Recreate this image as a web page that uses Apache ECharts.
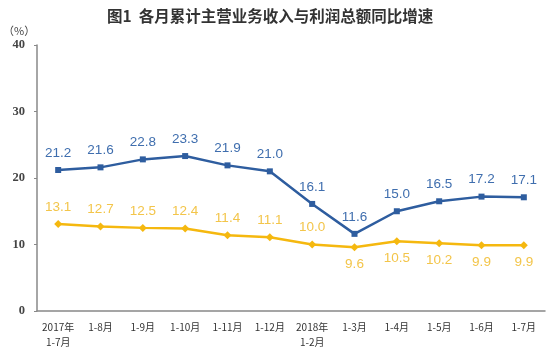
<!DOCTYPE html>
<html><head><meta charset="utf-8">
<script src="https://cdn.jsdelivr.net/npm/echarts@6/dist/echarts.min.js"></script>
<style>html,body{margin:0;padding:0;background:#fff}#c{width:559px;height:355px}</style>
</head><body><div id="c"></div>
<script>
const categories = ['2017年\n1-7月','1-8月','1-9月','1-10月','1-11月','1-12月','2018年\n1-2月','1-3月','1-4月','1-5月','1-6月','1-7月'];
const revenueGrowth = [21.2,21.6,22.8,23.3,21.9,21.0,16.1,11.6,15.0,16.5,17.2,17.1];
const profitGrowth = [13.1,12.7,12.5,12.4,11.4,11.1,10.0,9.6,10.5,10.2,9.9,9.9];
const yTicks = [0,10,20,30,40];

const chart = echarts.init(document.getElementById('c'));
chart.setOption({
  animation:false,
  backgroundColor:'#fff',
  title:{text:'图1  各月累计主营业务收入与利润总额同比增速',left:102,top:3,
    textStyle:{fontFamily:'Noto Sans CJK SC',fontSize:15.5,fontWeight:'bold',color:'#333'}},
  graphic:[{type:'text',left:3,top:25,style:{text:'（%）',font:'11px "Noto Sans CJK SC"',fill:'#444'}}],
  grid:{left:37,right:14,top:45,bottom:44},
  xAxis:{type:'category',data:categories,boundaryGap:true,
    axisLine:{lineStyle:{color:'#888',width:1.5}},
    axisTick:{inside:true,length:3,lineStyle:{color:'#888'}},
    axisLabel:{fontFamily:'Noto Sans CJK SC',fontSize:10,color:'#333',margin:9,lineHeight:15,interval:0}},
  yAxis:{type:'value',min:yTicks[0],max:yTicks[yTicks.length-1],interval:10,
    splitLine:{show:false},
    axisLine:{show:true,lineStyle:{color:'#888',width:1.5}},
    axisTick:{show:true,length:3,lineStyle:{color:'#888'}},
    axisLabel:{fontFamily:'Liberation Serif',fontSize:12.5,fontWeight:'bold',color:'#444',margin:12}},
  series:[
    {type:'line',data:revenueGrowth,symbol:'rect',symbolSize:6,
      lineStyle:{color:'#2e5d9f',width:2.5},itemStyle:{color:'#2e5d9f'},
      label:{show:true,position:'top',distance:7,fontFamily:'Liberation Sans',fontSize:13.5,color:'#3f6eae',
        formatter:p=>p.value.toFixed(1)}},
    {type:'line',data:profitGrowth.map((v,i)=>({value:v,label:{position:i>=7?'bottom':'top'}})),symbol:'diamond',symbolSize:8,
      lineStyle:{color:'#f5b80f',width:2.5},itemStyle:{color:'#f5b80f'},
      label:{show:true,distance:6,fontFamily:'Liberation Sans',fontSize:13.5,color:'#f3c54a',
        formatter:p=>p.value.toFixed(1)}}
  ]
});
</script></body></html>
